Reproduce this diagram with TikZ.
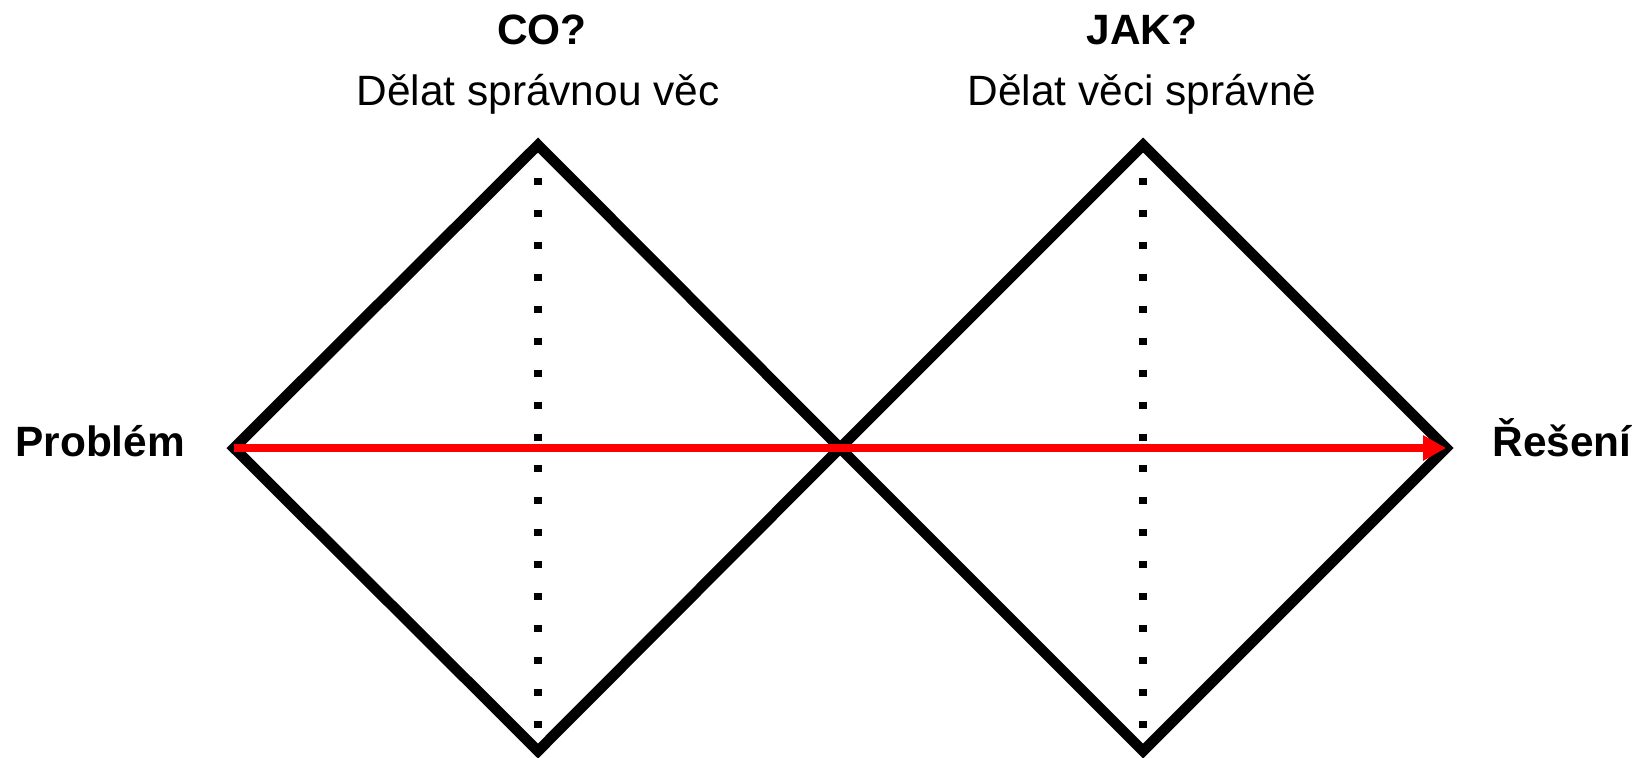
\documentclass[tikz,border=0pt]{standalone}
\usepackage{fontspec}
\setmainfont{Liberation Sans}
\usetikzlibrary{arrows.meta}
\begin{document}
\begin{tikzpicture}[x=0.5pt,y=-0.5pt,
  diamondline/.style={line width=5.3pt, line join=miter, draw=black},
  dotline/.style={line width=4pt, dash pattern=on 3.5pt off 12.47pt, dash phase=15.44pt, draw=black},
  flow/.style={line width=4pt, draw=red, -{Triangle[length=11.5pt,width=12pt]}},
  side/.style={font=\fontsize{21.2}{25}\selectfont\bfseries, inner sep=0pt, anchor=base west},
  head/.style={font=\fontsize{21.2}{25}\selectfont\bfseries, inner sep=0pt, anchor=base},
  sub/.style={font=\fontsize{21.2}{25}\selectfont, inner sep=0pt, anchor=base}]
\useasboundingbox (0,0) rectangle (1641,757);
\coordinate (L) at (234,448);
\coordinate (T1) at (538,145);
\coordinate (B1) at (538,751);
\coordinate (C) at (840,448);
\coordinate (T2) at (1143,145);
\coordinate (B2) at (1143,751);
\coordinate (R) at (1446,448);
\draw[dotline] (T1) -- (B1);
\draw[dotline] (T2) -- (B2);
\draw[diamondline] (L) -- (T1) -- (C) -- (B1) -- cycle;
\draw[diamondline] (C) -- (T2) -- (R) -- (B2) -- cycle;
\draw[flow] (L) -- (R);
\node[head] (co) at (542,44) {CO?};
\node[sub] (cosub) at (538,105) {Dělat správnou věc};
\node[head] (jak) at (1142,44) {JAK?};
\node[sub] (jaksub) at (1142,105) {Dělat věci správně};
\node[side] (prob) at (15,456) {Problém};
\node[side] (res) at (1492,456) {Řešení};
\end{tikzpicture}
\end{document}
